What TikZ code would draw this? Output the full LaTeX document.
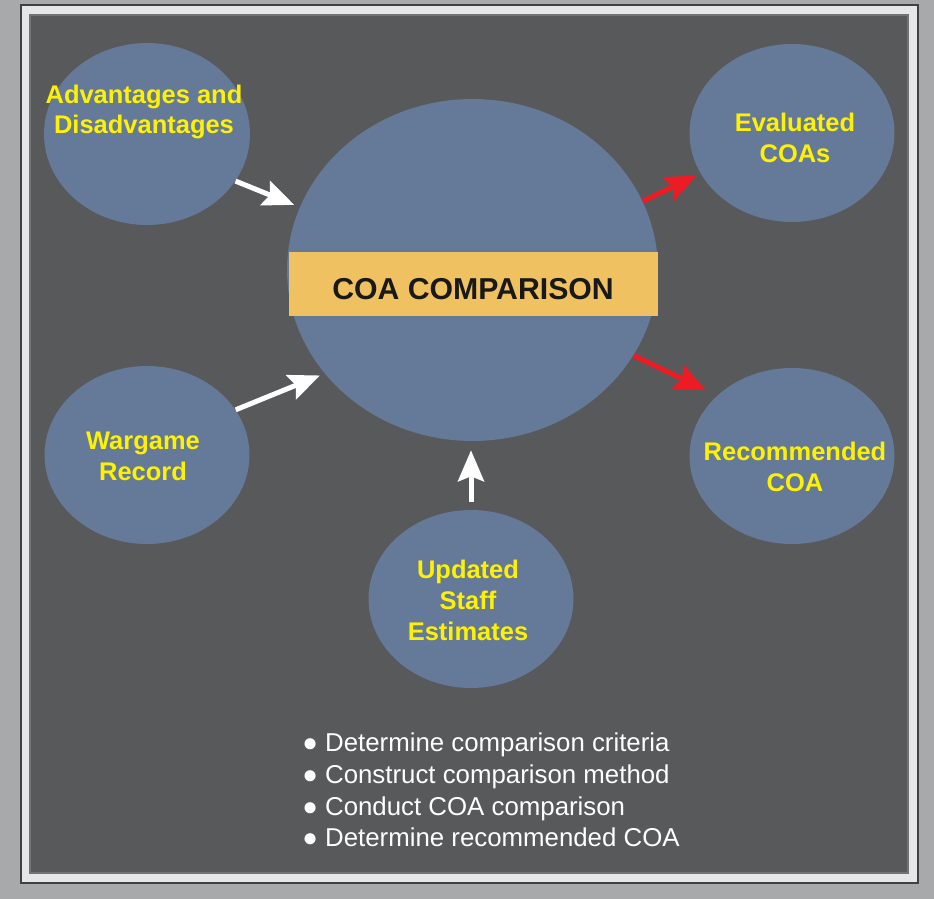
\documentclass[tikz,border=0pt]{standalone}
\usepackage{fontspec}
\setmainfont{Liberation Sans}
\usetikzlibrary{shapes.geometric, arrows.meta}
\definecolor{outergray}{RGB}{168, 169, 171}
\definecolor{framelight}{RGB}{229, 230, 232}
\definecolor{paneldark}{RGB}{88, 89, 91}
\definecolor{slateblue}{RGB}{101, 122, 153}
\definecolor{labelyellow}{RGB}{255, 242, 0}
\definecolor{bandorange}{RGB}{240, 193, 96}
\definecolor{arrowred}{RGB}{237, 28, 36}

\begin{document}
\begin{tikzpicture}[
        x=0.02cm, y=-0.02cm,
        bubble/.style={ellipse, fill=slateblue, inner sep=0pt, minimum width=4.1cm, minimum height=3.56cm},
        hub/.style={ellipse, fill=slateblue, inner sep=0pt, minimum width=7.42cm, minimum height=6.84cm},
        bubbletext/.style={text=labelyellow, align=center, inner sep=0pt, font=\fontsize{14.5}{17.6}\selectfont\bfseries},
        band/.style={rectangle, fill=bandorange, inner sep=0pt, minimum width=7.38cm, minimum height=1.28cm},
        bandtext/.style={text=black!90, inner sep=0pt, font=\fontsize{17.2}{20}\selectfont\bfseries},
        steps/.style={text=white, align=left, anchor=west, inner sep=0pt, font=\fontsize{14.7}{18.1}\selectfont},
        inarrow/.style={-{Stealth[length=0.62cm, width=0.52cm, inset=0.1cm]}, line width=0.1cm, color=white},
        outarrow/.style={inarrow, color=arrowred}
    ]
        % Frame
        \fill[outergray] (0, 0) rectangle (934, 899);
        \filldraw[fill=framelight, draw=black!75, line width=0.03cm] (21, 5) rectangle (918, 883);
        \filldraw[fill=paneldark, draw=black!55, line width=0.03cm] (30, 15) rectangle (908, 873);

        % Hub
        \node[hub] (coa) at (472.5, 270) {};
        \node[band] (band) at (473.5, 284) {};
        \node[bandtext] (bandlbl) at (473, 289) {COA COMPARISON};

        % Inputs
        \node[bubble, minimum width=4.12cm, minimum height=3.64cm] (adv) at (147, 134) {};
        \node[bubbletext] (advlbl) at (144, 112) {Advantages and\\Disadvantages};
        \node[bubble] (war) at (147, 455) {};
        \node[bubbletext] (warlbl) at (143, 456) {Wargame\\Record};
        \node[bubble] (upd) at (471, 599) {};
        \node[bubbletext] (updlbl) at (468, 600) {Updated\\Staff\\Estimates};

        % Outputs
        \node[bubble] (eval) at (792, 133) {};
        \node[bubbletext] (evallbl) at (795, 138) {Evaluated\\COAs};
        \node[bubble, minimum height=3.52cm] (rec) at (792, 456) {};
        \node[bubbletext] (reclbl) at (795, 467) {Recommended\\COA};

        % Connections
        \draw[inarrow, shorten >=0.12cm] (adv.-28) -- (coa.160);
        \draw[inarrow, shorten >=0.1cm] (war.27) -- (coa.-145.5);
        \draw[inarrow, shorten <=0.16cm, shorten >=0.18cm] (upd.north) -- (upd.north |- coa.south);
        \draw[outarrow, shorten >=0.09cm] (coa.22.4) -- (eval.-156);
        \draw[outarrow, shorten >=0.25cm] (coa.-28.5) -- (rec.141.3);

        % Steps
        \node[steps] (list) at (302, 790) {● Determine comparison criteria\\● Construct comparison method\\● Conduct COA comparison\\● Determine recommended COA};
    \end{tikzpicture}
\end{document}
